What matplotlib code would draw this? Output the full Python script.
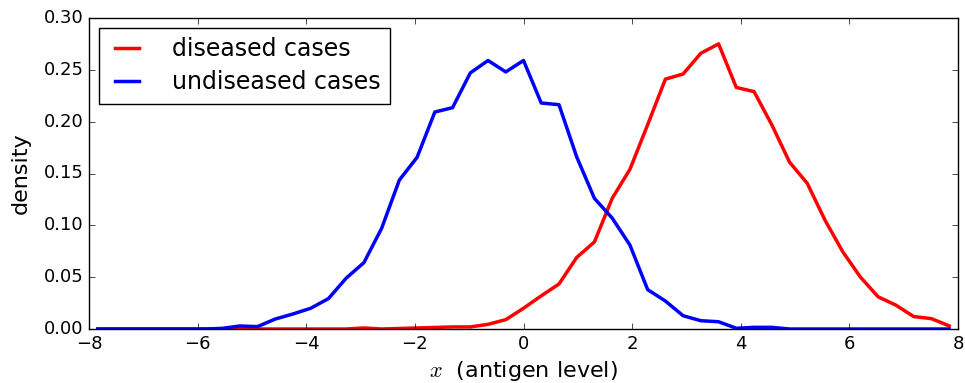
import numpy as np
import matplotlib
matplotlib.use("Agg")
import matplotlib.pyplot as plt

plt.style.use("classic")

# bin centers of 49 equal bins on [-8, 8]
bin_edges = np.linspace(-8, 8, 50)
x_centers = 0.5 * (bin_edges[:-1] + bin_edges[1:])

diseased = [0.0, 0.0, 0.0, 0.0, 0.0, 0.0, 0.0, 0.0, 0.0, 0.0,
            0.0, 0.0, 0.0, 0.0, 0.0, 0.001, 0.0, 0.0005, 0.001, 0.0015,
            0.002, 0.002, 0.0045, 0.009, 0.020, 0.032, 0.0434, 0.069, 0.084, 0.126,
            0.154, 0.197, 0.241, 0.246, 0.266, 0.275, 0.233, 0.229, 0.197, 0.161,
            0.1405, 0.105, 0.0746, 0.050, 0.031, 0.023, 0.012, 0.010, 0.003]

undiseased = [0.0, 0.0, 0.0, 0.0, 0.0, 0.0, 0.0, 0.0006, 0.0029, 0.0023,
              0.0096, 0.0145, 0.020, 0.0293, 0.049, 0.064, 0.0971, 0.1437, 0.1656, 0.2093,
              0.2135, 0.247, 0.259, 0.248, 0.259, 0.218, 0.2164, 0.166, 0.126, 0.107,
              0.081, 0.038, 0.027, 0.0128, 0.008, 0.007, 0.0007, 0.0016, 0.0016, 0.0,
              0.0, 0.0, 0.0, 0.0, 0.0, 0.0, 0.0, 0.0, 0.0]

fig = plt.figure(figsize=(9.65, 3.83), dpi=100, facecolor="white")
ax = fig.add_axes([89/965, 1 - 329/383, (958 - 89)/965, (329 - 18)/383])

ax.plot(x_centers, diseased, color="red", lw=2.5, label="diseased cases")
ax.plot(x_centers, undiseased, color="blue", lw=2.5, label="undiseased cases")

ax.set_xlim(-8, 8)
ax.set_ylim(0, 0.30)
ax.set_xticks(np.arange(-8, 9, 2))
ax.set_yticks(np.arange(0, 0.31, 0.05))
ax.set_yticklabels(["%.2f" % v for v in np.arange(0, 0.31, 0.05)])
ax.tick_params(labelsize=13)
ax.set_xlabel(r"$x$  (antigen level)", fontsize=16, labelpad=4.5)
ax.set_ylabel("density", fontsize=16, labelpad=9)
ax.legend(loc="upper left", fontsize=17, frameon=True, handlelength=1.6,
          handletextpad=1.1, borderpad=0.4, labelspacing=0.38,
          borderaxespad=0.42)

fig.savefig("out.png", dpi=100, facecolor="white")
